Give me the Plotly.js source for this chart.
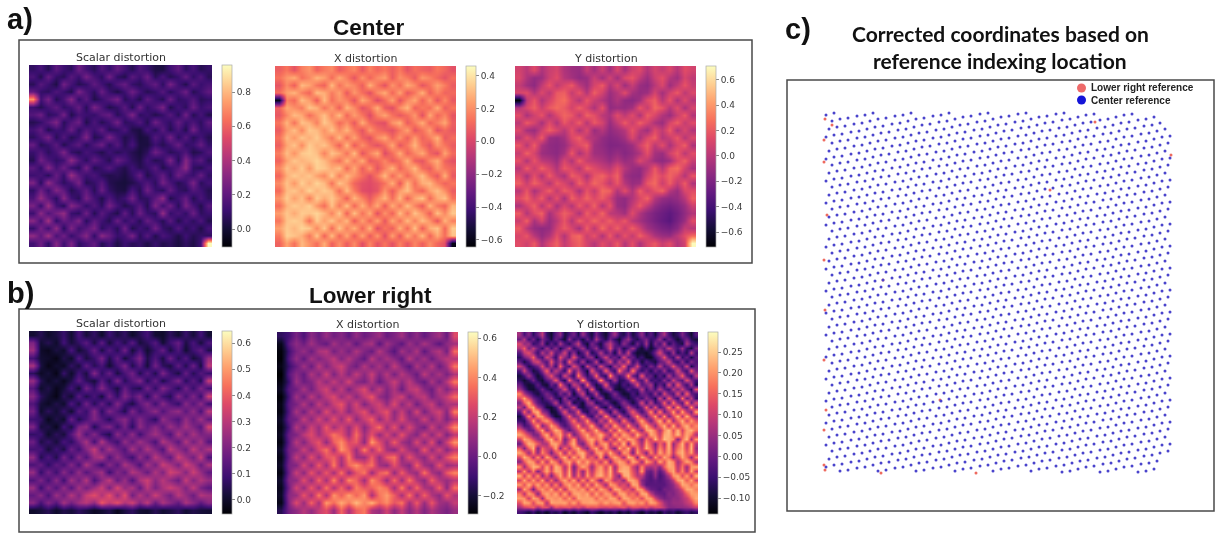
<!DOCTYPE html>
<html><head><meta charset="utf-8">
<script src="https://cdn.plot.ly/plotly-3.0.1.min.js"></script>
<style>html,body{margin:0;padding:0;background:#fff;overflow:hidden}#chart{width:1215px;height:534px;filter:blur(0.45px)}</style>
</head><body><div id="chart"></div>
<script>
// All values below are hand estimates (hundredths of a distortion unit).
// Heatmap cells are coarser than the source, so the fine texture is approximate, not a measurement.
const scalarCenter=[
[8,14,5,19,11,7,24,12,6,17,9,21,13,5,16,10,3,2,12,20,7,14,5,9],
[15,4,22,9,6,18,10,26,14,7,25,8,4,19,11,23,6,15,5,10,22,8,17,6],
[6,18,11,3,25,13,5,9,20,12,5,16,22,9,6,14,21,7,26,12,4,19,10,14],
[21,9,7,16,10,4,28,15,7,23,10,3,11,24,13,5,9,18,6,14,24,5,12,20],
[72,12,26,5,14,30,8,19,4,10,18,26,6,12,4,20,11,5,23,8,11,17,6,9],
[11,5,13,20,8,12,22,6,27,15,4,9,19,5,24,8,16,27,4,13,7,23,10,15],
[17,24,7,10,26,4,14,11,9,18,22,6,13,28,7,11,4,9,18,6,25,5,14,4],
[5,9,18,28,6,16,24,4,15,5,12,25,7,10,17,5,24,13,8,21,10,15,7,20],
[13,21,4,12,9,23,7,17,11,21,6,8,16,4,2,14,6,19,5,15,4,26,9,12],
[7,15,26,6,17,5,11,28,5,9,27,13,4,9,1,3,17,9,25,7,18,6,13,5],
[22,5,10,19,4,13,20,6,16,24,7,18,5,14,2,2,11,5,12,23,8,11,22,9],
[10,17,7,14,28,9,5,14,9,4,12,6,10,5,1,7,24,15,6,10,16,4,7,16],
[5,25,15,8,12,32,17,7,21,13,5,22,15,7,3,13,5,9,27,6,30,13,19,6],
[19,8,30,13,24,10,6,26,5,10,18,8,4,12,5,9,18,4,11,17,33,8,5,14],
[11,14,6,22,9,35,19,11,15,7,4,6,2,9,22,4,12,21,7,24,14,10,22,8],
[28,6,33,17,7,14,27,5,9,18,5,2,1,4,10,16,7,26,14,5,11,27,6,13],
[8,24,11,29,20,5,12,20,6,23,8,3,2,14,5,24,10,6,21,9,6,17,12,5],
[15,34,19,7,31,12,6,26,13,4,16,7,11,25,7,8,19,33,4,12,22,5,15,7],
[27,9,36,13,5,30,21,8,17,7,26,13,4,9,18,5,28,11,24,6,27,14,4,18],
[11,32,16,26,34,10,7,24,5,19,10,4,21,6,24,10,7,34,9,15,8,23,7,11],
[31,13,38,8,22,17,29,6,20,12,5,23,8,16,5,22,13,5,19,4,14,7,16,4],
[9,26,12,33,6,28,12,18,27,7,15,6,25,4,12,7,25,9,5,17,6,12,3,14],
[33,19,37,14,25,9,19,30,8,32,22,10,13,27,6,18,4,15,10,3,12,5,9,7],
[12,24,8,30,11,27,7,14,21,5,13,3,11,6,9,3,10,4,7,2,8,3,12,95]];
const xCenter=[
[8,14,5,16,21,9,15,19,7,13,18,6,17,10,14,8,15,5,12,9,7,14,10,4],
[13,22,27,12,18,29,24,11,26,16,5,21,9,19,24,7,20,15,6,22,17,10,4,12],
[5,19,8,30,25,14,9,30,13,23,18,8,28,14,4,21,11,26,19,5,13,24,16,7],
[12,24,29,16,10,31,27,15,24,6,22,12,3,19,27,10,25,6,14,28,8,18,9,11],
[-60,17,11,31,23,7,30,12,21,17,5,26,16,2,11,24,4,18,26,9,23,5,19,6],
[9,26,20,15,32,28,13,24,8,29,19,4,12,27,7,3,20,29,8,15,11,27,7,14],
[6,18,30,26,12,22,31,17,30,10,23,14,2,17,25,13,6,12,22,4,26,10,18,5],
[14,29,13,32,28,16,33,25,11,20,6,27,11,5,3,21,28,7,16,27,9,17,26,8],
[7,23,31,18,33,30,21,32,19,29,15,5,22,12,8,4,14,24,5,13,24,4,11,6],
[13,30,22,33,27,34,24,14,30,11,25,9,3,19,26,10,21,8,23,9,16,28,6,12],
[8,25,32,19,34,28,32,22,9,30,7,20,10,4,11,25,5,15,29,13,5,21,14,7],
[16,31,21,33,35,31,17,32,26,13,30,5,17,26,2,12,27,9,18,26,10,4,25,11],
[9,24,33,28,31,36,30,20,12,29,14,27,6,10,18,7,13,28,8,5,19,27,9,4],
[18,32,25,34,22,35,33,26,31,11,26,8,22,5,16,28,9,19,30,12,7,22,14,10],
[10,27,34,29,33,24,18,34,16,30,21,12,3,15,30,11,25,10,21,31,15,6,28,6],
[19,32,22,35,27,36,30,13,32,24,10,4,2,6,13,27,6,29,12,27,30,17,9,14],
[11,30,33,25,36,28,34,29,12,31,15,3,1,5,21,7,23,31,16,9,24,31,20,7],
[21,34,24,32,16,34,26,33,23,8,29,17,6,18,29,12,30,9,25,32,11,26,32,13],
[12,28,34,30,35,22,12,32,15,32,10,28,13,26,6,27,13,31,17,7,30,15,9,29],
[23,33,26,34,32,36,29,17,33,9,31,13,27,4,21,9,31,14,32,22,8,31,18,33],
[14,32,35,31,13,34,24,33,20,30,7,24,9,25,5,26,12,30,16,31,21,5,29,16],
[24,34,29,36,33,18,33,11,32,16,28,10,29,3,14,8,28,11,32,8,27,32,10,34],
[15,35,32,27,14,33,9,31,10,26,7,25,6,22,2,24,5,27,13,30,9,26,12,32],
[9,25,13,30,21,12,27,8,20,7,19,3,18,5,14,4,17,6,18,8,20,10,4,-60]];
const yCenter=[
[9,0,14,-4,6,11,-3,-9,-11,5,-7,7,-8,11,-6,8,13,-2,10,4,12,-1,15,9],
[12,-3,-12,-9,7,15,-1,-7,-13,-10,6,-8,9,-8,13,18,3,-9,7,16,-1,-8,11,2],
[4,-8,-14,3,18,2,12,20,1,-9,10,20,-3,11,-9,5,-10,-14,0,12,-9,3,18,5],
[11,15,-2,13,1,20,22,4,18,-2,22,9,-10,-1,15,-6,-12,-9,10,-7,9,20,1,13],
[-70,2,18,-3,10,22,27,12,-1,19,6,-2,-12,-3,-13,-15,-8,14,22,0,18,-4,14,-1],
[-2,12,22,6,20,26,20,9,22,10,-4,17,-13,-10,-12,-7,19,5,25,18,-1,15,-6,11],
[15,-5,8,18,-2,13,24,19,3,23,16,1,-5,14,2,14,-3,21,12,-2,-10,6,20,-2],
[1,21,11,-6,14,-3,19,7,22,-1,20,10,-11,4,21,6,23,11,-4,-10,11,22,4,15],
[13,-6,-10,8,22,12,0,17,-3,14,-10,-1,-14,-8,-1,18,1,-8,14,3,21,-3,12,-2],
[-1,16,3,21,-10,-13,-7,13,22,2,-3,-12,-17,-14,-7,12,-5,13,23,-1,6,19,-1,13],
[19,0,21,-5,-13,-15,-11,4,14,22,-8,-13,-19,-18,-15,-9,9,22,1,15,-5,11,22,-4],
[5,23,10,-9,-12,-15,-6,20,-4,11,-8,-10,-16,-11,-17,-12,-3,16,-6,-10,9,20,1,15],
[17,-3,18,2,-2,-10,11,-3,22,5,1,-4,-11,-2,-11,-7,13,2,-10,-14,-8,12,23,5],
[0,21,6,23,11,-3,19,12,0,23,14,6,1,15,-1,-10,-13,-1,20,0,22,27,9,-5],
[13,-6,16,-3,21,5,-5,22,15,-4,18,24,12,23,-8,-14,-15,8,23,14,24,15,-2,19],
[22,6,23,13,-1,20,11,-2,23,9,25,17,3,19,-1,-11,-8,19,26,7,22,4,21,-3],
[0,19,-5,9,23,3,21,14,-5,18,4,26,23,-2,16,-3,22,6,17,24,-1,-10,12,15],
[14,24,8,21,-2,17,-6,23,11,24,13,21,8,-10,-13,-2,12,23,-1,-11,-15,-12,0,22],
[-4,10,22,-1,19,-6,11,-2,20,5,23,-2,18,-10,-14,4,20,3,-12,-20,-24,-19,-10,7],
[21,-2,15,23,-6,9,22,14,-3,22,8,24,2,-1,-8,14,-3,-14,-21,-26,-31,-24,-13,-2],
[6,23,-5,11,-10,1,18,-1,23,10,25,12,23,10,20,1,-7,-15,-22,-28,-33,-22,-10,15],
[21,1,-11,-14,-11,8,21,11,-5,22,2,26,9,22,6,22,8,-8,-15,-21,-24,-16,4,0],
[11,19,0,-12,-3,17,-2,21,26,6,18,-3,21,-1,18,4,23,10,-4,-10,-12,1,16,26],
[15,8,20,-3,12,23,4,16,23,10,-1,15,5,20,-2,16,-4,12,20,6,15,-2,9,70]];
const scalarLower=[
[1,5,0,3,8,1,11,2,7,0,9,3,7,0,5,10,1,0,6,1,8,2,10,1],
[20,1,5,0,10,2,7,14,3,15,2,11,4,14,2,6,13,1,9,16,3,11,2,12],
[25,0,-2,3,0,11,1,6,16,3,13,5,18,2,11,1,8,16,3,12,1,9,15,4],
[10,1,0,-3,4,0,13,3,8,19,4,15,2,10,20,4,12,3,17,5,13,2,7,24],
[27,3,-3,1,-1,7,2,15,5,11,1,10,20,4,14,2,18,6,3,15,4,17,2,30],
[6,-1,2,-3,8,0,10,3,21,6,16,3,11,18,4,14,4,20,9,3,16,5,13,8],
[24,5,-1,3,-2,4,15,6,2,14,4,20,5,13,21,5,16,3,11,20,5,14,4,32],
[13,0,4,-2,2,10,1,18,8,21,10,3,16,7,4,18,7,21,13,5,18,8,20,10],
[21,6,1,-3,6,1,14,4,11,2,18,7,21,12,20,5,20,9,5,21,10,20,8,33],
[12,2,-1,4,0,12,3,18,5,16,5,21,9,3,14,21,9,22,13,7,22,13,23,9],
[18,0,6,1,8,1,14,8,22,6,20,12,4,20,9,16,23,12,20,24,14,23,11,30],
[9,7,-2,4,0,16,4,11,20,13,5,17,22,11,21,13,6,24,17,12,24,16,26,15],
[20,2,4,-2,10,3,20,23,4,16,21,8,19,6,23,15,22,14,25,18,27,20,13,34],
[7,9,0,6,2,13,26,12,21,9,4,22,12,23,9,19,26,19,12,28,17,27,19,21],
[17,3,8,2,11,6,17,27,10,29,15,9,24,15,26,19,11,29,22,14,29,18,27,13],
[10,11,2,9,3,17,9,21,32,15,27,18,12,27,16,28,20,12,31,23,17,31,21,28],
[23,4,12,4,19,8,22,12,25,29,12,24,16,9,24,14,30,22,15,33,25,18,32,12],
[11,16,6,15,10,21,10,28,17,8,22,13,28,21,11,27,18,33,27,19,34,27,16,28],
[24,7,18,9,22,12,24,13,21,26,9,21,15,29,24,16,28,20,34,30,21,33,24,15],
[12,20,10,22,9,26,17,29,11,22,31,16,25,12,27,33,22,30,23,17,32,21,29,24],
[25,8,21,12,24,13,27,18,25,33,19,35,23,28,15,30,19,27,33,28,20,31,19,14],
[15,22,11,25,17,29,20,32,37,28,38,24,37,18,29,21,33,24,18,30,24,17,29,26],
[22,10,21,13,27,18,26,30,23,40,31,38,28,34,21,31,16,28,22,15,28,22,14,22],
[0,2,5,0,4,2,6,3,-1,1,4,-2,3,6,1,0,5,1,3,6,1,4,2,1]];
const xLower=[
[-14,-9,3,-7,7,-1,10,1,6,-3,9,0,5,11,-1,4,12,0,8,-2,6,12,-1,26],
[-25,-3,8,0,12,3,-2,13,4,11,-3,10,14,-4,12,4,-4,11,2,14,5,-4,8,12],
[-28,-10,3,10,0,14,17,2,11,2,15,5,-1,16,5,-5,13,4,15,-3,10,16,2,34],
[-29,-6,9,-3,13,4,11,19,5,16,6,-3,18,5,14,7,-3,17,4,13,0,11,18,16],
[-26,-12,-1,12,0,18,5,15,22,8,1,16,4,14,2,19,6,-4,15,4,17,0,12,36],
[-30,-5,7,-2,15,5,21,4,17,5,19,7,21,5,17,3,17,8,-1,18,5,14,3,15],
[-27,-11,11,0,5,18,8,20,9,24,7,3,16,-1,10,21,7,18,5,-2,15,2,17,37],
[-24,-4,1,14,2,15,23,7,19,3,16,26,6,19,5,15,0,17,21,7,0,17,5,17],
[-29,-9,12,0,18,5,18,26,10,21,7,19,30,9,3,16,23,4,15,19,3,12,20,34],
[-26,-3,3,16,2,20,8,21,29,10,24,5,17,23,9,25,7,19,1,14,21,4,14,14],
[-27,-6,14,1,18,5,26,10,22,7,19,28,8,21,29,8,21,5,24,3,16,23,6,38],
[-23,-1,2,20,7,24,10,28,11,31,8,21,32,9,23,10,26,10,7,22,6,18,4,17],
[-26,-8,16,4,22,10,30,12,24,10,27,7,22,35,11,28,6,24,10,2,22,7,20,40],
[-24,0,4,18,26,12,23,37,28,11,35,12,28,9,25,9,29,12,5,23,7,23,4,18],
[-27,-3,17,5,20,29,9,31,41,25,30,8,44,27,11,31,12,6,25,7,27,2,22,42],
[-22,2,6,22,8,25,36,13,43,31,11,39,14,34,13,7,26,12,6,30,8,24,6,19],
[-26,-1,19,6,27,10,28,32,15,39,12,11,31,10,30,36,8,28,14,7,25,8,27,38],
[-23,3,5,24,9,31,12,38,12,33,42,29,36,13,8,28,13,6,32,12,7,28,10,14],
[-27,0,21,7,29,12,30,12,36,9,28,37,10,31,37,9,32,14,9,36,14,7,30,40],
[-22,6,8,27,10,33,13,40,14,41,32,12,42,29,10,34,11,36,16,8,32,16,10,18],
[-25,1,23,9,30,11,36,14,33,13,38,29,31,40,34,12,39,12,34,14,11,32,7,35],
[-23,7,10,29,13,38,15,43,31,45,33,43,14,36,44,31,13,36,11,32,15,8,29,15],
[-26,5,26,10,33,13,44,34,47,37,50,39,49,34,41,29,37,12,31,10,30,12,9,20],
[-16,2,8,17,9,20,27,10,33,14,31,37,15,10,23,8,20,7,17,5,15,8,3,10]];
// Y distortion, lower right: finer grid because of its diagonal stripes
const yLower=[
[6,-4,3,-7,0,9,-6,-10,-2,4,-9,-4,1,-8,5,-4,-9,1,-6,-10,-2,6,-5,-8,0,-9,-4,4,-7,-2,-9,0,7,-4,-9,-6,2,-5,-10,-2],
[0,8,-5,1,-8,2,-3,-9,0,-5,-10,4,-6,-2,-9,0,-7,7,-3,-8,1,-6,-10,-1,5,-5,-8,-2,2,-6,-3,5,-7,0,-5,-10,-4,1,-7,-9],
[12,4,6,-6,-3,5,-9,-1,-7,7,-3,-8,1,10,-5,-10,2,-4,-9,3,9,-1,-7,4,-3,-9,1,-6,6,-9,2,-4,8,-8,-1,-6,-9,7,-2,-5],
[7,15,1,9,0,-6,6,-4,4,-8,0,9,-6,-1,6,-6,-2,5,-7,-1,12,-3,2,-8,-2,6,-6,-10,-3,-10,-5,3,-2,10,1,-4,5,-6,-9,2],
[-2,9,13,4,-5,8,0,12,-2,1,11,-5,4,-9,-3,9,-8,-3,8,-5,2,-9,7,-4,10,-6,-10,-9,-11,-7,1,12,0,-6,6,-8,-2,-8,9,-4],
[-7,1,6,16,0,-4,11,4,-6,13,3,-3,14,0,-7,2,5,-10,0,11,-2,1,-6,12,-1,0,-8,-5,-10,-11,-4,2,14,-1,-5,9,-6,0,-9,-1],
[-1,-9,-3,8,12,2,-3,14,-1,6,-5,16,1,-5,7,-8,-3,10,-9,1,12,-4,8,0,15,-5,1,-9,-2,-6,-9,-1,2,11,-2,-6,4,-7,3,-3],
[10,2,-8,-4,1,13,-1,7,-5,16,0,-4,13,4,-9,11,1,-5,13,-1,-8,7,2,17,-3,0,12,-3,-7,2,-4,9,-3,1,14,2,-3,11,-9,-1],
[-3,11,-1,-9,-6,3,16,-2,9,2,-6,18,-1,8,-2,-10,14,1,-4,16,1,-6,19,4,-2,19,1,-6,0,-8,1,-5,6,-6,-1,12,0,-5,15,1],
[-9,-4,6,-3,-10,-5,5,14,1,-5,12,1,-6,19,3,-6,0,17,-3,-7,21,2,-4,1,20,-1,-5,15,-2,0,-9,-1,-8,8,-3,4,16,-1,-6,9],
[-6,-10,-6,1,-7,-10,-2,2,15,-1,-8,16,2,-3,22,1,-7,-1,21,-1,-5,7,-7,-6,2,18,1,-3,11,-5,-3,-6,4,-4,11,1,-2,13,2,-4],
[0,-7,-10,-8,-1,-8,-10,0,-5,18,2,-7,10,5,-5,17,-1,-9,-4,15,-3,-6,-9,-3,-7,0,14,-2,1,7,-8,0,-7,12,-3,15,2,-5,8,-8],
[6,-2,-9,-10,-6,1,-6,-9,-2,1,13,-3,-5,15,0,-6,16,-5,-10,0,7,-8,-10,-8,-1,-6,-4,9,-5,3,-4,8,-1,-5,9,1,11,0,-7,14],
[19,7,0,-6,-9,-4,2,-3,-8,2,-4,6,-10,1,11,-8,-3,10,-7,-10,-5,3,-5,-10,-9,-3,-8,1,-1,-6,6,-6,12,1,-3,13,-3,16,-1,-4],
[12,22,11,1,-4,-8,-1,5,-5,-9,5,-6,-2,-9,0,9,-10,-1,6,-9,-8,-3,0,-4,-9,-6,0,-5,4,-2,-8,11,-4,15,2,-5,18,-1,9,-6],
[2,15,23,8,-2,-6,-7,-2,9,-7,0,9,-9,-5,-10,3,7,-8,-5,2,-6,-10,-4,4,-2,-9,-3,12,-4,9,-5,0,16,-1,18,3,-2,20,0,12],
[9,0,18,22,6,0,-9,-10,-5,11,-4,2,13,-6,-9,-4,0,12,-4,-9,6,-5,-10,-1,10,1,-6,0,16,-1,14,-3,4,20,2,21,5,0,21,2],
[-2,16,2,20,23,5,1,-10,-9,0,14,-1,1,16,-5,-8,1,-2,17,1,-7,10,-2,-8,4,15,4,-4,5,20,1,19,0,8,22,5,22,8,2,22],
[-9,1,19,4,21,20,8,-3,-10,-8,3,16,2,5,19,0,-6,7,0,20,4,-4,14,1,-5,8,20,7,-1,10,21,4,21,2,12,23,8,23,10,4],
[-5,-7,5,21,7,17,21,12,0,-6,-3,7,18,4,8,21,4,-3,11,2,21,8,0,18,5,-2,12,22,10,1,13,23,7,22,5,15,23,11,21,13],
[5,-4,-2,9,22,2,10,22,15,2,-4,1,10,21,6,11,22,7,-1,15,5,22,11,4,21,8,1,16,23,13,4,16,23,10,23,8,18,23,14,19],
[15,8,-1,0,12,22,5,14,23,18,5,-2,4,13,22,9,14,23,10,2,18,8,23,14,6,22,11,4,20,23,16,7,19,24,13,23,11,21,23,16],
[22,17,10,2,2,15,23,8,17,22,8,19,1,7,16,22,12,17,23,13,5,21,11,22,17,9,23,14,7,22,19,10,22,23,16,24,14,22,17,7],
[10,22,19,12,5,4,18,23,11,20,1,11,21,3,10,19,22,15,20,4,16,8,23,14,22,20,12,3,17,10,24,13,24,22,19,2,17,24,6,21],
[0,13,23,21,14,7,7,21,22,14,4,15,23,6,1,13,21,6,18,22,7,19,11,24,3,22,15,6,21,13,2,16,8,24,4,14,23,9,22,8],
[14,2,15,23,2,16,10,10,22,3,17,7,18,22,9,3,16,22,9,21,10,2,22,14,23,6,18,9,23,16,5,19,11,23,7,17,22,11,23,5],
[22,16,5,18,4,19,12,1,13,21,6,20,10,21,23,12,5,19,22,12,23,13,4,21,17,1,21,12,2,19,8,22,14,22,9,20,23,14,21,8],
[12,23,18,7,20,6,22,14,3,16,23,9,22,13,23,11,15,7,22,1,15,22,16,6,23,20,3,23,15,5,21,11,22,17,4,12,22,16,4,19],
[3,14,22,20,9,21,8,22,17,5,18,22,12,23,15,22,14,18,9,21,3,17,22,19,9,22,18,5,22,17,7,22,13,23,19,6,14,22,18,6],
[20,5,16,23,22,11,22,10,23,19,7,20,1,14,22,17,5,16,21,11,22,5,19,22,21,11,4,19,7,6,9,3,15,22,21,8,17,5,20,22],
[8,21,7,18,2,13,22,12,22,21,9,22,3,16,4,19,8,18,22,13,23,7,21,23,22,13,6,21,2,-1,6,-2,5,18,22,10,19,7,22,10],
[23,10,22,9,20,4,15,2,14,22,11,23,5,18,6,21,11,20,23,15,22,9,2,22,23,15,8,9,0,-3,4,-4,0,7,20,22,12,21,9,23],
[11,22,12,21,11,22,6,17,4,16,22,13,22,7,20,8,22,13,3,21,17,8,11,4,21,22,17,3,-1,-3,-1,-3,-1,2,9,21,23,14,22,11],
[21,13,23,14,22,13,21,8,19,6,18,22,15,22,9,21,10,22,15,5,21,19,10,13,6,22,21,5,-2,-2,-2,-2,-2,1,4,11,22,21,16,21],
[6,22,15,1,16,21,15,22,10,21,8,20,21,17,21,11,22,12,22,17,7,22,21,12,15,8,21,20,7,0,-1,-3,1,1,3,6,13,22,22,18],
[18,8,21,17,3,18,22,17,22,12,22,10,21,22,19,22,13,22,14,21,19,9,21,22,14,17,10,22,22,9,2,0,-1,3,2,5,8,15,21,21],
[21,20,10,22,19,5,20,21,19,21,14,21,12,22,21,21,21,15,21,16,22,21,11,22,21,16,19,12,21,21,11,4,1,2,4,4,7,10,17,22],
[13,22,21,12,21,21,7,22,21,21,22,16,22,14,21,21,22,21,17,22,18,21,22,13,21,22,18,21,14,22,20,13,6,3,5,5,6,9,12,19],
[6,11,13,15,7,13,13,5,14,12,13,14,10,13,9,14,13,14,12,11,13,11,13,14,9,13,13,11,13,9,12,12,8,3,3,4,4,5,7,10],
[-4,-6,-9,-5,-10,-7,-11,-6,-8,-5,-11,-7,-10,-6,-8,-11,-5,-8,-11,-7,-9,-6,-11,-7,-10,-5,-8,-11,-6,-9,-7,-11,-5,-8,-6,-10,-7,-5,-8,-6]];

const laneA=[26,34,42,51,59,67,75,83,92,100,108,116,124,133,141,149,157,165,174,182,190,198,206,215,223,231,239,247,256,264,272,280,288,297,305,313,321,329,338,346,354,362,370];
const laneB=[29,37,45,54,62,70,78,86,95,103,111,119,127,136,144,152,160,168,177,185,193,201,209,218,226,234,242,250,259,267,275,283,291,300,308,316,324,332,341,349,357,365];
const laneC=[32,40,48,57,65,73,81,89,98,106,114,122,130,139,147,155,163,171,180,188,196,204,212,221,229,237,245,253,262,270,278,286,294,303,311,319,327,335,344,352,360,368];
const rowLane="ACBACBACBACBACBACBACBACBACBACBACBACBACBACBACBACBACBACBACBA";
const rowFrom=[0,0,0,0,0,0,0,0,0,0,0,0,0,0,0,0,0,0,0,0,0,0,0,0,0,0,0,0,0,0,0,0,0,0,0,0,0,0,0,0,0,0,0,0,0,0,0,0,0,1,6,11,15,20,25,28,33,38];
const rowY=[
[15,13],
[21,19,18,16,15,13],
[29,27,26,24,23,21,19,18,16,15,13],
[37,35,34,32,31,29,27,26,24,23,21,19,18,16,15,13],
[43,41,40,38,37,35,33,32,30,29,27,25,24,22,21,19,17,16,14,13],
[51,49,48,46,45,43,41,40,38,37,35,33,32,30,29,27,25,24,22,21,19,17,16,14,13],
[59,57,56,54,53,51,49,48,46,45,43,41,40,38,37,35,33,32,30,29,27,25,24,22,21,19,17,16,14,13],
[65,63,62,60,59,57,55,54,52,51,49,47,46,44,43,41,39,38,36,35,33,31,30,28,27,25,23,22,20,19,17,15,14],
[73,71,70,68,67,65,63,62,60,59,57,55,54,52,51,49,47,46,44,43,41,39,38,36,35,33,31,30,28,27,25,23,22,20,19,17,15,14],
[81,79,78,76,75,73,71,70,68,67,65,63,62,60,59,57,55,54,52,51,49,47,46,44,43,41,39,38,36,35,33,31,30,28,27,25,23,22,20,19,17],
[87,85,84,82,81,79,77,76,74,73,71,69,68,66,65,63,61,60,58,57,55,53,52,50,49,47,45,44,42,41,39,37,36,34,33,31,29,28,26,25,23],
[95,93,92,90,89,87,85,84,82,81,79,77,76,74,73,71,69,68,66,65,63,61,60,58,57,55,53,52,50,49,47,45,44,42,41,39,37,36,34,33,31,29],
[103,101,100,98,97,95,93,92,90,89,87,85,84,82,81,79,77,76,74,73,71,69,68,66,65,63,61,60,58,57,55,53,52,50,49,47,45,44,42,41,39,37,36],
[109,107,106,104,103,101,99,98,96,95,93,91,90,88,87,85,83,82,80,79,77,75,74,72,71,69,67,66,64,63,61,59,58,56,55,53,51,50,48,47,45,43],
[117,115,114,112,111,109,107,106,104,103,101,99,98,96,95,93,91,90,88,87,85,83,82,80,79,77,75,74,72,71,69,67,66,64,63,61,59,58,56,55,53,51],
[125,123,122,120,119,117,115,114,112,111,109,107,106,104,103,101,99,98,96,95,93,91,90,88,87,85,83,82,80,79,77,75,74,72,71,69,67,66,64,63,61,59,58],
[131,129,128,126,125,123,121,120,118,117,115,113,112,110,109,107,105,104,102,101,99,97,96,94,93,91,89,88,86,85,83,81,80,78,77,75,73,72,70,69,67,65],
[139,137,136,134,133,131,129,128,126,125,123,121,120,118,117,115,113,112,110,109,107,105,104,102,101,99,97,96,94,93,91,89,88,86,85,83,81,80,78,77,75,73],
[147,145,144,142,141,139,137,136,134,133,131,129,128,126,125,123,121,120,118,117,115,113,112,110,109,107,105,104,102,101,99,97,96,94,93,91,89,88,86,85,83,81,80],
[153,151,150,148,147,145,143,142,140,139,137,135,134,132,131,129,127,126,124,123,121,119,118,116,115,113,111,110,108,107,105,103,102,100,99,97,95,94,92,91,89,87],
[161,159,158,156,155,153,151,150,148,147,145,143,142,140,139,137,135,134,132,131,129,127,126,124,123,121,119,118,116,115,113,111,110,108,107,105,103,102,100,99,97,95],
[169,167,166,164,163,161,159,158,156,155,153,151,150,148,147,145,143,142,140,139,137,135,134,132,131,129,127,126,124,123,121,119,118,116,115,113,111,110,108,107,105,103,102],
[175,173,172,170,169,167,165,164,162,161,159,157,156,154,153,151,149,148,146,145,143,141,140,138,137,135,133,132,130,129,127,125,124,122,121,119,117,116,114,113,111,109],
[183,181,180,178,177,175,173,172,170,169,167,165,164,162,161,159,157,156,154,153,151,149,148,146,145,143,141,140,138,137,135,133,132,130,129,127,125,124,122,121,119,117],
[191,189,188,186,185,183,181,180,178,177,175,173,172,170,169,167,165,164,162,161,159,157,156,154,153,151,149,148,146,145,143,141,140,138,137,135,133,132,130,129,127,125,124],
[197,195,194,192,191,189,187,186,184,183,181,179,178,176,175,173,171,170,168,167,165,163,162,160,159,157,155,154,152,151,149,147,146,144,143,141,139,138,136,135,133,131],
[205,203,202,200,199,197,195,194,192,191,189,187,186,184,183,181,179,178,176,175,173,171,170,168,167,165,163,162,160,159,157,155,154,152,151,149,147,146,144,143,141,139],
[213,211,210,208,207,205,203,202,200,199,197,195,194,192,191,189,187,186,184,183,181,179,178,176,175,173,171,170,168,167,165,163,162,160,159,157,155,154,152,151,149,147,146],
[219,217,216,214,213,211,209,208,206,205,203,201,200,198,197,195,193,192,190,189,187,185,184,182,181,179,177,176,174,173,171,169,168,166,165,163,161,160,158,157,155,153],
[227,225,224,222,221,219,217,216,214,213,211,209,208,206,205,203,201,200,198,197,195,193,192,190,189,187,185,184,182,181,179,177,176,174,173,171,169,168,166,165,163,161],
[235,233,232,230,229,227,225,224,222,221,219,217,216,214,213,211,209,208,206,205,203,201,200,198,197,195,193,192,190,189,187,185,184,182,181,179,177,176,174,173,171,169,168],
[241,239,238,236,235,233,231,230,228,227,225,223,222,220,219,217,215,214,212,211,209,207,206,204,203,201,199,198,196,195,193,191,190,188,187,185,183,182,180,179,177,175],
[249,247,246,244,243,241,239,238,236,235,233,231,230,228,227,225,223,222,220,219,217,215,214,212,211,209,207,206,204,203,201,199,198,196,195,193,191,190,188,187,185,183],
[257,255,254,252,251,249,247,246,244,243,241,239,238,236,235,233,231,230,228,227,225,223,222,220,219,217,215,214,212,211,209,207,206,204,203,201,199,198,196,195,193,191,190],
[263,261,260,258,257,255,253,252,250,249,247,245,244,242,241,239,237,236,234,233,231,229,228,226,225,223,221,220,218,217,215,213,212,210,209,207,205,204,202,201,199,197],
[271,269,268,266,265,263,261,260,258,257,255,253,252,250,249,247,245,244,242,241,239,237,236,234,233,231,229,228,226,225,223,221,220,218,217,215,213,212,210,209,207,205],
[279,277,276,274,273,271,269,268,266,265,263,261,260,258,257,255,253,252,250,249,247,245,244,242,241,239,237,236,234,233,231,229,228,226,225,223,221,220,218,217,215,213,212],
[285,283,282,280,279,277,275,274,272,271,269,267,266,264,263,261,259,258,256,255,253,251,250,248,247,245,243,242,240,239,237,235,234,232,231,229,227,226,224,223,221,219],
[293,291,290,288,287,285,283,282,280,279,277,275,274,272,271,269,267,266,264,263,261,259,258,256,255,253,251,250,248,247,245,243,242,240,239,237,235,234,232,231,229,227],
[301,299,298,296,295,293,291,290,288,287,285,283,282,280,279,277,275,274,272,271,269,267,266,264,263,261,259,258,256,255,253,251,250,248,247,245,243,242,240,239,237,235,234],
[307,305,304,302,301,299,297,296,294,293,291,289,288,286,285,283,281,280,278,277,275,273,272,270,269,267,265,264,262,261,259,257,256,254,253,251,249,248,246,245,243,241],
[315,313,312,310,309,307,305,304,302,301,299,297,296,294,293,291,289,288,286,285,283,281,280,278,277,275,273,272,270,269,267,265,264,262,261,259,257,256,254,253,251,249],
[323,321,320,318,317,315,313,312,310,309,307,305,304,302,301,299,297,296,294,293,291,289,288,286,285,283,281,280,278,277,275,273,272,270,269,267,265,264,262,261,259,257,256],
[329,327,326,324,323,321,319,318,316,315,313,311,310,308,307,305,303,302,300,299,297,295,294,292,291,289,287,286,284,283,281,279,278,276,275,273,271,270,268,267,265,263],
[337,335,334,332,331,329,327,326,324,323,321,319,318,316,315,313,311,310,308,307,305,303,302,300,299,297,295,294,292,291,289,287,286,284,283,281,279,278,276,275,273,271],
[345,343,342,340,339,337,335,334,332,331,329,327,326,324,323,321,319,318,316,315,313,311,310,308,307,305,303,302,300,299,297,295,294,292,291,289,287,286,284,283,281,279,278],
[351,349,348,346,345,343,341,340,338,337,335,333,332,330,329,327,325,324,322,321,319,317,316,314,313,311,309,308,306,305,303,301,300,298,297,295,293,292,290,289,287,285],
[359,357,356,354,353,351,349,348,346,345,343,341,340,338,337,335,333,332,330,329,327,325,324,322,321,319,317,316,314,313,311,309,308,306,305,303,301,300,298,297,295,293],
[367,365,364,362,361,359,357,356,354,353,351,349,348,346,345,343,341,340,338,337,335,333,332,330,329,327,325,324,322,321,319,317,316,314,313,311,309,308,306,305,303,301,300],
[371,370,368,367,365,363,362,360,359,357,355,354,352,351,349,347,346,344,343,341,339,338,336,335,333,331,330,328,327,325,323,322,320,319,317,315,314,312,311,309,307],
[371,370,368,367,365,363,362,360,359,357,355,354,352,351,349,347,346,344,343,341,339,338,336,335,333,331,330,328,327,325,323,322,320,319,317,315],
[371,370,368,367,365,363,362,360,359,357,355,354,352,351,349,347,346,344,343,341,339,338,336,335,333,331,330,328,327,325,323,322],
[371,369,368,366,365,363,361,360,358,357,355,353,352,350,349,347,345,344,342,341,339,337,336,334,333,331,329],
[371,369,368,366,365,363,361,360,358,357,355,353,352,350,349,347,345,344,342,341,339,337],
[371,369,368,366,365,363,361,360,358,357,355,353,352,350,349,347,345,344],
[372,371,369,367,366,364,363,361,359,358,356,355,353,351],
[372,371,369,367,366,364,363,361],
[372,371,369]];
const lowerRightX=[25,32,24,24,27,24,25,24,26,24,25,24,295,371,81,176,83,140,250];
const lowerRightY=[19,25,40,62,115,160,210,260,310,330,370,365,22,55,373,373,180,300,90];

const heatTitles=["Scalar distortion","X distortion","Y distortion","Scalar distortion","X distortion","Y distortion"];
const panelTitles=["Center","Lower right"];
const panelLetters=["a)","b)","c)"];
const titleLines=["Corrected coordinates based on","reference indexing location"];
const legendNames=["Lower right reference","Center reference"];
const heatData=[scalarCenter,xCenter,yCenter,scalarLower,xLower,yLower];
const zLow=[-0.105,-0.643,-0.718,-0.055,-0.295,-0.138];
const zHigh=[0.958,0.458,0.71,0.647,0.632,0.298];
const tickSets=[[0,0.2,0.4,0.6,0.8],[-0.6,-0.4,-0.2,0,0.2,0.4],[-0.6,-0.4,-0.2,0,0.2,0.4,0.6],[0,0.1,0.2,0.3,0.4,0.5,0.6],[-0.2,0,0.2,0.4,0.6],[-0.1,-0.05,0,0.05,0.1,0.15,0.2,0.25]];
const tickFormats=[".1f",".1f",".1f",".1f",".1f",".2f"];
const magma=[[0,"#000004"],[0.1,"#140e36"],[0.2,"#3b0f70"],[0.3,"#641a80"],[0.4,"#8c2981"],[0.5,"#b73779"],[0.6,"#de4968"],[0.7,"#f7705c"],[0.8,"#fe9f6d"],[0.9,"#fecf92"],[1,"#fcfdbf"]];

// Layout frames in pixels of the 1215x534 page: [left,right,top,bottom]
const plotBoxes=[[29,212,65,247],[275,456,66,247],[515,696,66,247],[29,212,331,514],[277,458,332,514],[517,698,332,514]];
const barLefts=[222,466,706,222,468,708];
const W=1215,H=534,fx=p=>p/W,fy=p=>1-p/H;
const data=[],layout={width:W,height:H,margin:{l:0,r:0,t:0,b:0},paper_bgcolor:"#fff",plot_bgcolor:"#fff",showlegend:false,shapes:[],annotations:[]};
heatData.forEach((rows,i)=>{
  const n=i+1,b=plotBoxes[i],s=n===1?"":n;
  data.push({type:"heatmap",z:rows.map(r=>r.map(v=>v/100)),xaxis:"x"+s,yaxis:"y"+s,colorscale:magma,zmin:zLow[i],zmax:zHigh[i],zsmooth:"best",hoverinfo:"skip",
    colorbar:{x:fx(barLefts[i]),xanchor:"left",y:fy(b[2]),yanchor:"top",len:(b[3]-b[2])/H,thickness:10,xpad:0,ypad:0,outlinecolor:"#aaa",outlinewidth:0.7,
      tickmode:"array",tickvals:tickSets[i],tickformat:tickFormats[i],ticks:"outside",ticklen:3,tickwidth:0.7,tickcolor:"#555",tickfont:{family:"DejaVu Sans",size:9,color:"#3a3a3a"}}});
  layout["xaxis"+s]={domain:[fx(b[0]),fx(b[1])],anchor:"y"+s,visible:false};
  layout["yaxis"+s]={domain:[fy(b[3]),fy(b[2])],anchor:"x"+s,autorange:"reversed",visible:false};
  layout.annotations.push({text:heatTitles[i],xref:"paper",yref:"paper",x:fx((b[0]+b[1])/2),y:fy(b[2]-8),xanchor:"center",yanchor:"middle",showarrow:false,font:{family:"DejaVu Sans",size:11,color:"#333"}});
});
const cx=[],cy=[];
rowY.forEach((ys,k)=>{const lane={A:laneA,B:laneB,C:laneC}[rowLane[k]];ys.forEach((y,j)=>{cx.push(lane[rowFrom[k]+j]);cy.push(y);});});
data.push({type:"scatter",mode:"markers",name:legendNames[0],x:lowerRightX,y:lowerRightY,xaxis:"x7",yaxis:"y7",marker:{color:"#ee6a5f",size:3},hoverinfo:"skip"});
data.push({type:"scatter",mode:"markers",name:legendNames[1],x:cx,y:cy,xaxis:"x7",yaxis:"y7",marker:{color:"#4a44cc",size:3},hoverinfo:"skip"});
layout.xaxis7={domain:[fx(787),fx(1214)],anchor:"y7",range:[-13,414],visible:false};
layout.yaxis7={domain:[fy(511),fy(80)],anchor:"x7",range:[411,-20],visible:false};
const rect=(l,r,t,b)=>({type:"rect",xref:"paper",yref:"paper",x0:fx(l),x1:fx(r),y0:fy(b),y1:fy(t),line:{color:"#4a4a4a",width:1.5}});
layout.shapes.push(rect(19,752,40,263),rect(19,755,309,532),rect(787,1214,80,511));
const dot=(c,col)=>({type:"circle",xref:"paper",yref:"paper",x0:fx(1077),x1:fx(1086),y0:fy(c+4.5),y1:fy(c-4.5),fillcolor:col,line:{width:0}});
layout.shapes.push(dot(88,"#ee6a6a"),dot(100,"#1414d8"));
const note=(t,x,y,size,fam,anchor,bold,col)=>layout.annotations.push({text:bold?"<b>"+t+"</b>":t,xref:"paper",yref:"paper",x:fx(x),y:fy(y),xanchor:anchor,yanchor:"middle",showarrow:false,font:{family:fam,size:size,color:col||"#111"}});
const AR="Liberation Sans";
note(panelLetters[0],5,19,29,AR,"left",true);
note(panelLetters[1],5,293,29,AR,"left",true);
note(panelLetters[2],783,29,29,AR,"left",true);
note(panelTitles[0],369,27,22.5,AR,"center",true);
note(panelTitles[1],370,295,22.5,AR,"center",true);
note(titleLines[0],1000,33,21,"Lato","center",true);
note(titleLines[1],1000,61,21,"Lato","center",true);
note(legendNames[0],1089,88,10,AR,"left",true,"#222");
note(legendNames[1],1089,100,10,AR,"left",true,"#222");
Plotly.newPlot("chart",data,layout,{staticPlot:true,displayModeBar:false});
</script></body></html>
